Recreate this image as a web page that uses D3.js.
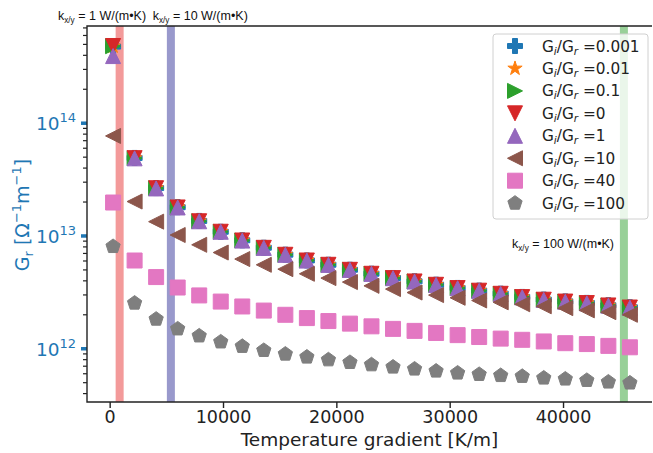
<!DOCTYPE html>
<html>
<head>
<meta charset="utf-8">
<script src="https://cdn.jsdelivr.net/npm/d3@7"></script>
<style>
body { margin: 0; background: #fff; }
svg { display: block; }
</style>
</head>
<body>
<div id="chart"></div>
<script>
// temperature gradient [K/m]
var gradient = [300, 2200, 4100, 6000, 7900, 9800, 11700, 13600, 15500, 17400, 19300, 21200, 23100,
    25000, 26900, 28800, 30700, 32600, 34500, 36400, 38300, 40200, 42100, 44000, 45900];

// G_r for each G_i/G_r ratio
var gr0001 = [4.78e14, 4.92e13, 2.66e13, 1.80e13, 1.36e13, 1.09e13, 9.15e12, 7.87e12, 6.83e12, 6.07e12, 5.56e12, 5.02e12, 4.63e12,
    4.24e12, 3.96e12, 3.70e12, 3.46e12, 3.28e12, 3.08e12, 2.88e12, 2.73e12, 2.63e12, 2.55e12, 2.43e12, 2.33e12];
var gr001 = [4.80e14, 4.91e13, 2.66e13, 1.80e13, 1.35e13, 1.09e13, 9.13e12, 7.86e12, 6.82e12, 6.07e12, 5.55e12, 5.01e12, 4.62e12,
    4.23e12, 3.95e12, 3.69e12, 3.45e12, 3.27e12, 3.07e12, 2.87e12, 2.72e12, 2.62e12, 2.54e12, 2.42e12, 2.32e12];
var gr01 = [4.82e14, 4.90e13, 2.65e13, 1.79e13, 1.35e13, 1.09e13, 9.12e12, 7.85e12, 6.81e12, 6.06e12, 5.55e12, 5.01e12, 4.62e12,
    4.23e12, 3.95e12, 3.69e12, 3.45e12, 3.27e12, 3.07e12, 2.87e12, 2.72e12, 2.62e12, 2.54e12, 2.42e12, 2.32e12];
var gr0 = [4.84e14, 4.90e13, 2.65e13, 1.79e13, 1.35e13, 1.09e13, 9.12e12, 7.85e12, 6.81e12, 6.06e12, 5.55e12, 5.01e12, 4.62e12,
    4.23e12, 3.95e12, 3.69e12, 3.45e12, 3.27e12, 3.07e12, 2.87e12, 2.72e12, 2.62e12, 2.54e12, 2.42e12, 2.32e12];
var gr1 = [3.94e14, 4.88e13, 2.64e13, 1.79e13, 1.35e13, 1.09e13, 9.10e12, 7.84e12, 6.80e12, 6.05e12, 5.54e12, 5.00e12, 4.61e12,
    4.22e12, 3.94e12, 3.68e12, 3.44e12, 3.26e12, 3.06e12, 2.86e12, 2.71e12, 2.61e12, 2.53e12, 2.41e12, 2.31e12];
var gr10 = [7.71e13, 2.02e13, 1.34e13, 1.02e13, 8.35e12, 7.13e12, 6.24e12, 5.55e12, 5.08e12, 4.62e12, 4.23e12, 3.90e12, 3.61e12,
    3.38e12, 3.15e12, 2.99e12, 2.83e12, 2.68e12, 2.58e12, 2.48e12, 2.38e12, 2.29e12, 2.19e12, 2.11e12, 2.00e12];
var gr40 = [1.98e13, 6.06e12, 4.32e12, 3.49e12, 2.97e12, 2.62e12, 2.37e12, 2.18e12, 2.00e12, 1.87e12, 1.76e12, 1.67e12, 1.58e12,
    1.50e12, 1.44e12, 1.38e12, 1.32e12, 1.27e12, 1.23e12, 1.20e12, 1.16e12, 1.12e12, 1.10e12, 1.06e12, 1.03e12];
var gr100 = [8.07e12, 2.54e12, 1.83e12, 1.50e12, 1.30e12, 1.15e12, 1.05e12, 9.66e11, 8.97e11, 8.44e11, 7.98e11, 7.56e11, 7.21e11,
    6.88e11, 6.61e11, 6.34e11, 6.09e11, 5.92e11, 5.79e11, 5.69e11, 5.50e11, 5.39e11, 5.24e11, 5.07e11, 4.97e11];

var ratioLabels = ["0.001", "0.01", "0.1", "0", "1", "10", "40", "100"];
var ratioValues = [gr0001, gr001, gr01, gr0, gr1, gr10, gr40, gr100];
var ratioColors = ["#1f77b4", "#ff7f0e", "#2ca02c", "#d62728", "#9467bd", "#8c564b", "#e377c2", "#7f7f7f"];
var ratioMarkers = ["P", "*", ">", "v", "^", "<", "s", "p"];

// thermal conductivity bands
var kLabels = ["1", "10", "100"];
var kPositions = [880, 5400, 45370];
var kColors = ["#f39a9a", "#9999cc", "#98d098"];

var xTicks = [0, 10000, 20000, 30000, 40000];
var yMajorTicks = [1e12, 1e13, 1e14];

var W = 653, H = 453;
var margin = {top: 26, right: 1, bottom: 51, left: 87},
    width = W - margin.left - margin.right,
    height = H - margin.top - margin.bottom;

var svg = d3.select("#chart").append("svg")
    .attr("width", W)
    .attr("height", H)
    .style("font-family", "'DejaVu Sans', sans-serif");

var g = svg.append("g")
    .attr("transform", "translate(" + margin.left + "," + margin.top + ")");

var x = d3.scaleLinear().domain([-2000, 47850]).range([0, width]);
var y = d3.scaleLog().domain([3.37e11, 7.28e14]).range([height, 0]);

var ink = "#222";
var blue = "#1f77b4";

// bands
g.selectAll(".band")
    .data(kPositions)
    .enter().append("rect")
    .attr("class", "band")
    .attr("x", function(d) { return x(d) - 4; })
    .attr("y", 0)
    .attr("width", 8)
    .attr("height", height)
    .attr("fill", function(d, i) { return kColors[i]; });

function markerPath(m, ms) {
    var h = ms / 2, pts;
    if (m == "^") pts = [[0, -h], [-h, h], [h, h]];
    else if (m == "v") pts = [[0, h], [-h, -h], [h, -h]];
    else if (m == ">") pts = [[h, 0], [-h, -h], [-h, h]];
    else if (m == "<") pts = [[-h, 0], [h, -h], [h, h]];
    else if (m == "s") pts = [[-h, -h], [h, -h], [h, h], [-h, h]];
    else if (m == "p") {
        pts = d3.range(5).map(function(k) {
            var a = -Math.PI / 2 + k * 2 * Math.PI / 5;
            return [h * Math.cos(a), h * Math.sin(a)];
        });
    } else if (m == "*") {
        pts = d3.range(10).map(function(k) {
            var a = -Math.PI / 2 + k * Math.PI / 5, r = k % 2 ? h * 0.381966 : h;
            return [r * Math.cos(a), r * Math.sin(a)];
        });
    } else {
        var a = h / 3;
        pts = [[-a, -h], [a, -h], [a, -a], [h, -a], [h, a], [a, a], [a, h], [-a, h], [-a, a], [-h, a], [-h, -a], [-a, -a]];
    }
    return "M" + pts.map(function(p) { return p[0].toFixed(2) + "," + p[1].toFixed(2); }).join("L") + "Z";
}

var markerSize = 15;

// points, one group per series
ratioValues.forEach(function(vals, s) {
    g.append("g").selectAll("path")
        .data(vals)
        .enter().append("path")
        .attr("d", markerPath(ratioMarkers[s], markerSize))
        .attr("transform", function(d, i) { return "translate(" + x(gradient[i]) + "," + y(d) + ")"; })
        .attr("fill", ratioColors[s])
        .attr("stroke", ratioColors[s])
        .attr("stroke-width", 1)
        .attr("stroke-linejoin", "miter");
});

// x axis
var xAxis = g.append("g")
    .attr("transform", "translate(0," + height + ")")
    .call(d3.axisBottom(x).tickValues(xTicks).tickFormat(d3.format("d")).tickSize(6).tickPadding(3));
xAxis.select(".domain").remove();
xAxis.selectAll("line").attr("stroke", ink).attr("stroke-width", 1.4);
xAxis.selectAll("text").attr("fill", ink).style("font-size", "17.5px").style("font-family", "'DejaVu Sans', sans-serif");

// y axis: minor ticks
var yMinor = [];
[11, 12, 13, 14].forEach(function(e) {
    for (var k = 2; k <= 9; k++) {
        var v = k * Math.pow(10, e);
        if (v > y.domain()[0] && v < y.domain()[1]) yMinor.push(v);
    }
});
g.selectAll(".yminor")
    .data(yMinor)
    .enter().append("line")
    .attr("x1", -4).attr("x2", 0)
    .attr("y1", function(d) { return y(d); })
    .attr("y2", function(d) { return y(d); })
    .attr("stroke", ink)
    .attr("stroke-width", 1.2);

g.selectAll(".ymajor")
    .data(yMajorTicks)
    .enter().append("line")
    .attr("x1", -6).attr("x2", 0)
    .attr("y1", function(d) { return y(d); })
    .attr("y2", function(d) { return y(d); })
    .attr("stroke", blue)
    .attr("stroke-width", 3.5);

var yLab = g.selectAll(".ylab")
    .data(yMajorTicks)
    .enter().append("text")
    .attr("x", -11)
    .attr("y", function(d) { return y(d) + 7; })
    .attr("text-anchor", "end")
    .attr("fill", blue)
    .style("font-size", "18.5px");
yLab.append("tspan").text("10");
yLab.append("tspan")
    .attr("dy", -8)
    .style("font-size", "13px")
    .text(function(d) { return Math.round(Math.log10(d)); });

// spines
g.append("path")
    .attr("d", "M" + width + ",0H0V" + height + "H" + width)
    .attr("fill", "none")
    .attr("stroke", ink)
    .attr("stroke-width", 1.4);

// axis labels
svg.append("text")
    .attr("x", margin.left + width / 2)
    .attr("y", 446)
    .attr("text-anchor", "middle")
    .attr("fill", ink)
    .style("font-size", "18.5px")
    .text("Temperature gradient [K/m]");

var yTitle = svg.append("text")
    .attr("transform", "translate(29,215) rotate(-90)")
    .attr("text-anchor", "middle")
    .attr("fill", blue)
    .style("font-size", "19px");
yTitle.append("tspan").text("G");
yTitle.append("tspan").attr("dy", 4).style("font-size", "13px").text("r");
yTitle.append("tspan").attr("dy", -4).text(" [Ω");
yTitle.append("tspan").attr("dy", -8).style("font-size", "13px").text("−1");
yTitle.append("tspan").attr("dy", 8).text("m");
yTitle.append("tspan").attr("dy", -8).style("font-size", "13px").text("−1");
yTitle.append("tspan").attr("dy", 8).text("]");

// k annotations
var kAnnot = [
    {x: -4560, y: 8.2e14},
    {x: 3800, y: 8.2e14},
    {x: 35500, y: 7.85e12}
];
kAnnot.forEach(function(a, i) {
    var t = g.append("text")
        .attr("x", x(a.x))
        .attr("y", y(a.y))
        .attr("fill", "#111")
        .style("font-family", "'Liberation Sans', Arial, sans-serif")
        .style("font-size", "12.5px");
    t.append("tspan").text("k");
    t.append("tspan").attr("dy", 3).style("font-size", "8.2px").text("x/y");
    t.append("tspan").attr("dy", -3).text(" = " + kLabels[i] + " W/(m•K)");
});

// legend
var legend = svg.append("g").attr("transform", "translate(493,34)");
legend.append("rect")
    .attr("width", 155)
    .attr("height", 185)
    .attr("rx", 3)
    .attr("fill", "#fff")
    .attr("fill-opacity", 0.8)
    .attr("stroke", "#d0d0d0")
    .attr("stroke-width", 1);

var rows = legend.selectAll(".row")
    .data(ratioLabels)
    .enter().append("g")
    .attr("transform", function(d, i) { return "translate(0," + (12 + i * 22.45) + ")"; });
rows.append("path")
    .attr("transform", "translate(22,0)")
    .attr("d", function(d, i) { return markerPath(ratioMarkers[i], markerSize); })
    .attr("fill", function(d, i) { return ratioColors[i]; })
    .attr("stroke", function(d, i) { return ratioColors[i]; });
var lt = rows.append("text")
    .attr("x", 49)
    .attr("y", 5.5)
    .attr("fill", ink)
    .style("font-size", "15.3px");
lt.append("tspan").text("G");
lt.append("tspan").attr("dy", 3).style("font-size", "10.5px").style("font-style", "italic").text("i");
lt.append("tspan").attr("dy", -3).text("/G");
lt.append("tspan").attr("dy", 3).style("font-size", "10.5px").style("font-style", "italic").text("r");
lt.append("tspan").attr("dy", -3).text(function(d) { return " =" + d; });
</script>
</body>
</html>
